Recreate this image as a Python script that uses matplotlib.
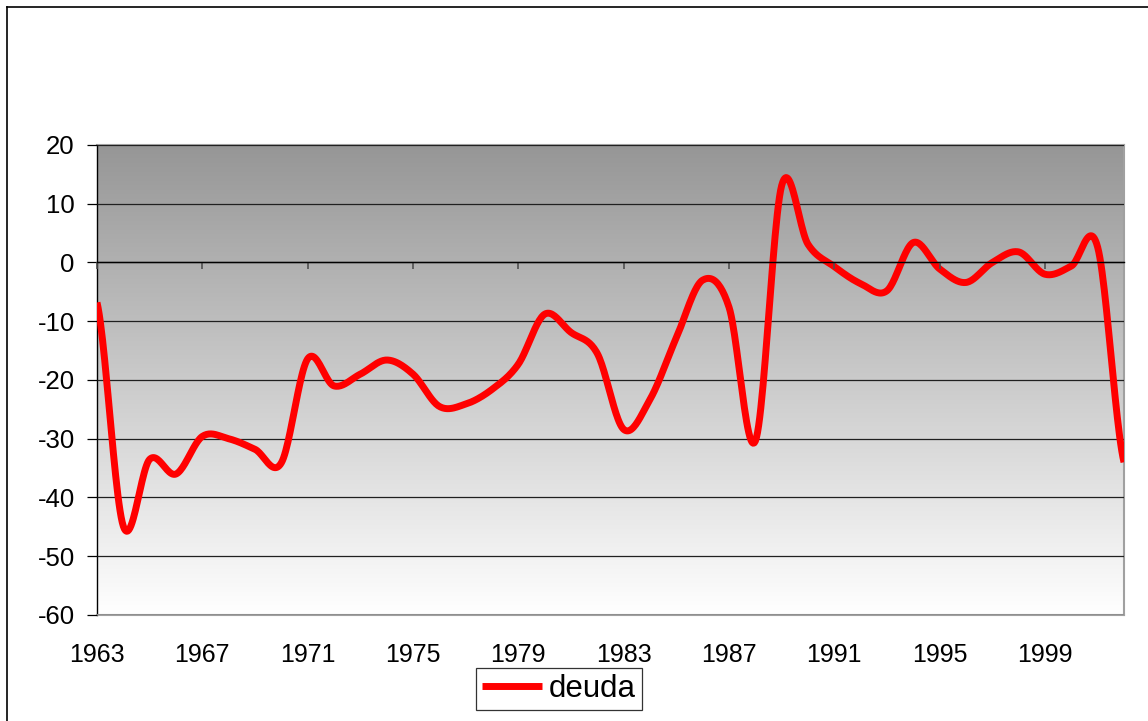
import numpy as np
import matplotlib.pyplot as plt
from matplotlib.colors import LinearSegmentedColormap
from matplotlib.lines import Line2D

plt.rcParams['font.family'] = ['Liberation Sans', 'DejaVu Sans']
plt.rcParams['axes.unicode_minus'] = False

# data
years = np.arange(1963, 2003)
deuda = [-6.8, -44.9, -33.5, -36.0, -29.6, -30.0, -31.8, -34.1, -16.4, -21.0,
         -19.0, -16.6, -19.0, -24.5, -24.1, -21.6, -17.3, -8.8, -11.9, -15.5,
         -28.4, -23.3, -12.8, -3.0, -7.6, -30.4, 13.1, 3.1, -0.7, -3.6,
         -4.8, 3.4, -1.1, -3.4, 0.0, 1.8, -2.0, -0.6, 2.6, -34.0]
xticks = np.arange(1963, 2003, 4)
yticks = np.arange(-60, 21, 10)


def smooth(x, y, n=24):
    # Catmull-Rom style smoothing like excel's "smoothed line"
    x = np.asarray(x, float)
    y = np.asarray(y, float)
    m = np.empty_like(y)
    m[1:-1] = (y[2:] - y[:-2]) / 2
    m[0] = (y[1] - y[0]) / 2
    m[-1] = (y[-1] - y[-2]) / 2
    xs, ys = [], []
    t = np.linspace(0, 1, n, endpoint=False)
    h00 = 2*t**3 - 3*t**2 + 1
    h10 = t**3 - 2*t**2 + t
    h01 = -2*t**3 + 3*t**2
    h11 = t**3 - t**2
    for i in range(len(x) - 1):
        xs.append(x[i] + t*(x[i+1] - x[i]))
        ys.append(h00*y[i] + h10*m[i] + h01*y[i+1] + h11*m[i+1])
    xs.append([x[-1]])
    ys.append([y[-1]])
    return np.concatenate(xs), np.concatenate(ys)


fig = plt.figure(figsize=(11.48, 7.21), dpi=100)
pos = [97/1148, 106/721, 1027/1148, 470/721]
ax = fig.add_axes(pos)

cmap = LinearSegmentedColormap.from_list('bg', ['#969696', '#ffffff'])
grad = np.linspace(0, 1, 256).reshape(-1, 1)
ax.imshow(grad, extent=[years[0], years[-1], -60, 20], aspect='auto',
          cmap=cmap, zorder=0)

sx, sy = smooth(years, deuda)
ax.plot(sx, sy, color='#ff0000', lw=5, solid_capstyle='butt', zorder=3,
        label='deuda')

ax.set_xlim(years[0], years[-1])
ax.set_ylim(-60, 20)
ax.set_yticks(yticks)
ax.set_xticks(xticks)
ax.set_xticklabels([str(v) for v in xticks])
ax.yaxis.grid(True, color='#202020', lw=0.9, zorder=1)
ax.set_axisbelow(False)
ax.tick_params(axis='y', direction='out', length=7, width=0.9, pad=9,
               labelsize=18.5, color='#000000')
ax.tick_params(axis='x', length=0, pad=20, labelsize=18)
for s in ['top', 'right', 'bottom']:
    ax.spines[s].set_color('#a0a0a0')
    ax.spines[s].set_linewidth(1.5)
ax.spines['left'].set_color('#000000')
ax.spines['left'].set_linewidth(1)

# axis line at zero with its tick marks
ax2 = fig.add_axes(pos, sharex=ax)
ax2.set_ylim(-60, 20)
ax2.patch.set_visible(False)
for s in ['top', 'right', 'left']:
    ax2.spines[s].set_visible(False)
ax2.spines['bottom'].set_position(('data', 0))
ax2.spines['bottom'].set_color('#000000')
ax2.spines['bottom'].set_linewidth(1)
ax2.set_yticks([])
ax2.tick_params(axis='x', direction='out', length=5, width=1.2,
                color='#505050', labelbottom=False)

leg = fig.legend(loc='center', bbox_to_anchor=(559/1148, 1 - 689/721),
                 fontsize=22.5, frameon=True, fancybox=False, edgecolor='#000000',
                 handlelength=1.9, handletextpad=0.22, borderpad=0.2,
                 borderaxespad=0)
leg.get_frame().set_linewidth(0.9)

# chart border (only left and top fall inside the picture)
fig.add_artist(Line2D([7/1148, 7/1148], [0, 1 - 7/721], color='#000000',
                      lw=1.2, transform=fig.transFigure))
fig.add_artist(Line2D([7/1148, 1], [1 - 7/721, 1 - 7/721], color='#000000',
                      lw=1.2, transform=fig.transFigure))

fig.savefig('out.png', dpi=100)
